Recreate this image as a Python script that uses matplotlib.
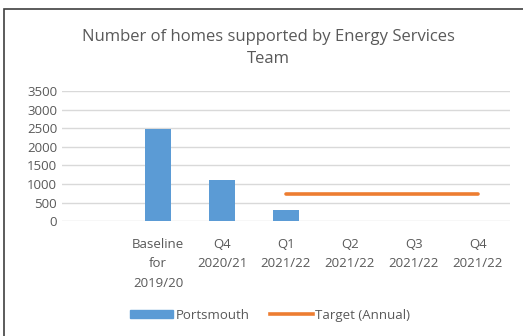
import matplotlib.pyplot as plt
from matplotlib.lines import Line2D
from matplotlib.patches import Patch, Rectangle

categories = ["", "Baseline\nfor\n2019/20", "Q4\n2020/21", "Q1\n2021/22",
              "Q2\n2021/22", "Q3\n2021/22", "Q4\n2021/22"]
portsmouth = [None, 2470, 1110, 300, None, None, None]
target = [None, None, None, 740, 740, 740, 740]

grey = "#595959"
blue = "#5B9BD5"
orange = "#ED7D31"

plt.rcParams['font.family'] = ['Open Sans', 'DejaVu Sans']

fig = plt.figure(figsize=(5.23, 3.36), dpi=100)
ax = fig.add_axes([0.1185, 0.342, 0.8565, 0.387])

x = list(range(len(categories)))
bx = [i for i, v in zip(x, portsmouth) if v is not None]
bv = [v for v in portsmouth if v is not None]
ax.bar(bx, bv, width=0.41, color=blue, zorder=3)

tx = [i for i, v in zip(x, target) if v is not None]
tv = [v for v in target if v is not None]
ax.plot(tx, tv, color=orange, lw=2.6, solid_capstyle="round", zorder=4)

ax.set_xlim(-0.5, len(categories) - 0.5)
ax.set_ylim(0, 3500)
ax.set_yticks(range(0, 3501, 500))
ax.set_xticks(x)
ax.set_xticklabels(categories, linespacing=1.65)
ax.tick_params(axis="both", length=0, colors=grey, labelsize=9.5)
ax.tick_params(axis="x", pad=12)
ax.grid(axis="y", color="#D9D9D9", lw=1, zorder=0)
for s in ax.spines.values():
    s.set_visible(False)

fig.text(0.513, 0.858, "Number of homes supported by Energy Services\nTeam",
         ha="center", va="center", color=grey, fontsize=12, linespacing=1.5)

handles = [Patch(color=blue), Line2D([], [], color=orange, lw=2.6)]
fig.legend(handles, ["Portsmouth", "Target (Annual)"], loc="center",
           bbox_to_anchor=(0.517, 0.062), ncol=2, frameon=False,
           fontsize=9.5, labelcolor=grey, handlelength=3.2,
           handleheight=0.5, handletextpad=0.2, columnspacing=1.6)

# outer chart border
fig.patches.append(Rectangle((4 / 523, -0.05), 1.2, 1 - 9 / 336 + 0.05,
                             transform=fig.transFigure, fill=False,
                             edgecolor="#404040", lw=1.2))

fig.savefig("out.png", dpi=100)
